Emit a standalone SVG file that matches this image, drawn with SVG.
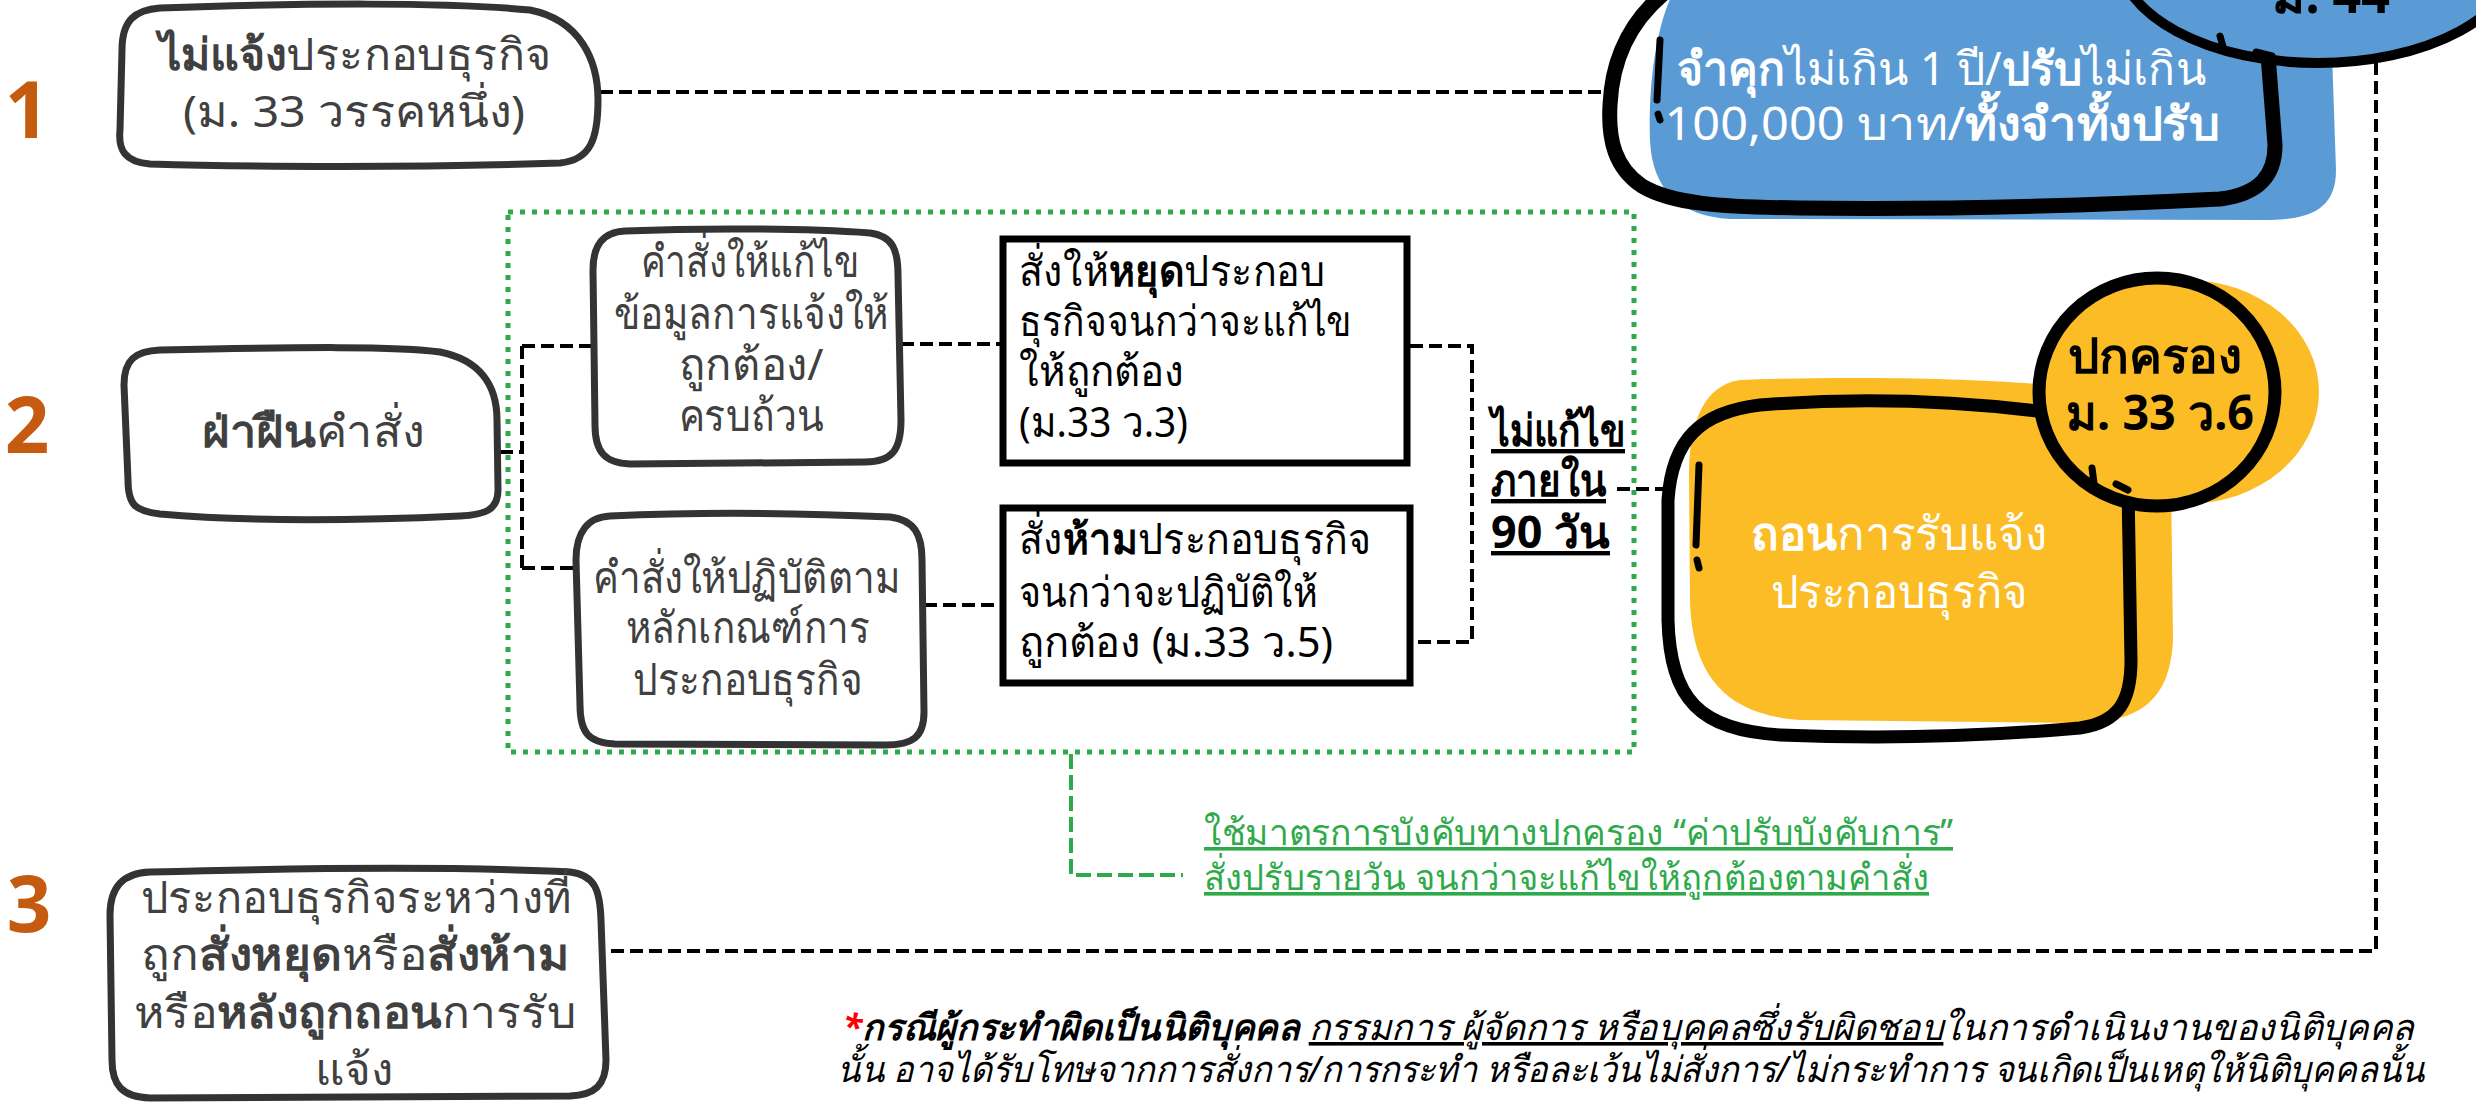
<svg xmlns="http://www.w3.org/2000/svg" width="2476" height="1103" viewBox="0 0 2476 1103">
<style>
text{font-family:"Noto Sans","DejaVu Sans",sans-serif;}
.num{font-family:"Open Sans",sans-serif;font-weight:700;font-size:78px;fill:#C55A11;text-anchor:middle;}
.sk{fill:#fff;stroke:#333;stroke-width:7;stroke-linejoin:round;stroke-linecap:round;}
.bt{font-size:44px;fill:#404040;text-anchor:middle;}
.bk{font-size:42px;fill:#000;}
.b{font-weight:700;}
.dash{fill:none;stroke:#000;stroke-width:4;stroke-dasharray:13 6;}
.gdot{fill:none;stroke:#2EAA4A;stroke-width:5;stroke-dasharray:5 7;}
.gdash{fill:none;stroke:#2EAA4A;stroke-width:4;stroke-dasharray:15 6;}
.wt{font-size:46px;fill:#fff;text-anchor:middle;}
.thick{fill:none;stroke:#000;stroke-linecap:round;stroke-linejoin:round;}
</style>
<rect width="2476" height="1103" fill="#fff"/>

<text class="num" x="27" y="138">1</text>
<text class="num" x="27" y="453">2</text>
<text class="num" x="29" y="932">3</text>

<g id="connectors">
  <path class="dash" d="M600,92 H1606"/>
  <path class="dash" d="M500,452 H522 M522,346 V568 M522,346 H593 M522,568 H576"/>
  <path class="dash" d="M901,344 H1000 M924,605 H1000"/>
  <path class="dash" d="M1410,346 H1472 V642 H1413"/>
  <path class="dash" d="M1617,489 H1668"/>
  <path class="dash" stroke-width="3.5" d="M2376,62 V951 H609"/>
  <path class="gdash" d="M1071,754 V875 H1183"/>
</g>

<g id="group-box">
  <rect class="gdot" x="508" y="212" width="1126" height="540"/>
</g>

<g id="penalty">
  <path fill="#5B9BD5" d="M1672,-5 L2330,-5 L2336,170 C2336,208 2312,219 2270,220 L1730,219 C1680,216 1652,190 1650,140 C1648,90 1655,30 1672,-5 Z"/>
  <path class="thick" stroke-width="15" d="M1668,-10 C1630,20 1612,60 1610,105 C1608,140 1615,168 1642,186 C1672,204 1720,207 1800,208 C1950,210 2100,205 2220,199 C2260,194 2275,175 2275,145 L2268,55"/>
  <ellipse cx="2318" cy="-45" rx="200" ry="108" fill="#5B9BD5" stroke="#000" stroke-width="10"/>
  <path class="thick" stroke-width="7" d="M1660,40 L1657,100 M1658,114 L1660,120 M2220,36 L2224,50 M2256,52 L2272,56"/>
  <text class="b" x="2331" y="13" font-size="54" text-anchor="middle" fill="#000" textLength="118" lengthAdjust="spacingAndGlyphs">ม. 44</text>
  <text class="wt" x="1941" y="85" textLength="529" lengthAdjust="spacingAndGlyphs"><tspan class="b">จำคุก</tspan>ไม่เกิน 1 ปี/<tspan class="b">ปรับ</tspan>ไม่เกิน</text>
  <text class="wt" x="1942" y="140" textLength="555" lengthAdjust="spacingAndGlyphs">100,000 บาท/<tspan class="b">ทั้งจำทั้งปรับ</tspan></text>
</g>

<g id="revoke">
  <path fill="#FBBC25" d="M1740,380 C1850,376 1980,378 2060,386 L2170,400 L2173,640 C2170,700 2140,722 2080,723 L1800,720 C1730,715 1692,680 1690,600 L1689,470 C1690,420 1705,385 1740,380 Z"/>
  <ellipse cx="2187" cy="392" rx="132" ry="112" fill="#FBBC25"/>
  <path class="thick" stroke-width="13" d="M2045,412 C1950,400 1850,398 1760,405 C1700,412 1672,440 1668,500 L1668,620 C1670,700 1700,730 1780,735 C1900,740 2000,735 2080,728 C2120,722 2131,700 2131,660 L2128,488"/>
  <ellipse cx="2157" cy="392" rx="118" ry="114" fill="#FBBC25" stroke="#000" stroke-width="13"/>
  <path class="thick" stroke-width="7" d="M1699,465 L1696,545 M1697,560 L1699,568 M2092,468 L2094,483 M2116,484 L2128,490"/>
  <text class="b" x="2155" y="373" font-size="48" text-anchor="middle" fill="#000" textLength="174" lengthAdjust="spacingAndGlyphs">ปกครอง</text>
  <text class="b" x="2160" y="430" font-size="48" text-anchor="middle" fill="#000" textLength="188" lengthAdjust="spacingAndGlyphs">ม. 33 ว.6</text>
  <text class="wt" x="1899" y="550" textLength="296" lengthAdjust="spacingAndGlyphs"><tspan class="b">ถอน</tspan>การรับแจ้ง</text>
  <text class="wt" x="1899" y="608" textLength="257" lengthAdjust="spacingAndGlyphs">ประกอบธุรกิจ</text>
</g>

<g id="node-1">
  <path class="sk" d="M160,8 C300,3 450,2 530,10 C580,20 598,60 598,100 C598,140 590,160 560,163 C420,168 250,167 150,164 C125,162 118,150 120,130 L122,50 C122,20 135,10 160,8 Z"/>
  <text class="bt" x="355" y="70" textLength="393" lengthAdjust="spacingAndGlyphs"><tspan class="b">ไม่แจ้ง</tspan>ประกอบธุรกิจ</text>
  <text class="bt" x="354" y="127" textLength="342" lengthAdjust="spacingAndGlyphs">(ม. 33 วรรคหนึ่ง)</text>
</g>

<g id="node-2">
  <path class="sk" d="M160,350 C300,347 400,346 440,352 C480,360 497,385 497,420 L498,490 C498,510 485,515 460,516 C350,521 250,522 160,514 C135,511 128,505 128,480 L124,385 C124,360 135,351 160,350 Z"/>
  <text class="bt" x="313" y="447" font-size="48" textLength="222" lengthAdjust="spacingAndGlyphs"><tspan class="b">ฝ่าฝืน</tspan>คำสั่ง</text>
</g>

<g id="node-a">
  <path class="sk" d="M625,231 C700,228 800,228 870,233 C893,236 898,250 898,275 L901,420 C901,450 892,462 865,462 L630,464 C605,463 595,452 595,425 L593,270 C593,245 603,232 625,231 Z"/>
  <text class="bt" font-size="42" x="750" y="277" textLength="218" lengthAdjust="spacingAndGlyphs">คำสั่งให้แก้ไข</text>
  <text class="bt" font-size="42" x="751" y="329" textLength="275" lengthAdjust="spacingAndGlyphs">ข้อมูลการแจ้งให้</text>
  <text class="bt" font-size="42" x="751" y="380" textLength="145" lengthAdjust="spacingAndGlyphs">ถูกต้อง/</text>
  <text class="bt" font-size="42" x="751" y="431" textLength="145" lengthAdjust="spacingAndGlyphs">ครบถ้วน</text>
</g>

<g id="node-b">
  <path class="sk" d="M610,516 C700,512 800,513 890,517 C915,520 922,535 922,560 L924,712 C924,737 913,745 885,745 L615,744 C588,743 580,732 580,705 L576,560 C576,532 588,517 610,516 Z"/>
  <text class="bt" font-size="42" x="747" y="593" textLength="308" lengthAdjust="spacingAndGlyphs">คำสั่งให้ปฏิบัติตาม</text>
  <text class="bt" font-size="42" x="748" y="643" textLength="245" lengthAdjust="spacingAndGlyphs">หลักเกณฑ์การ</text>
  <text class="bt" font-size="42" x="748" y="695" textLength="230" lengthAdjust="spacingAndGlyphs">ประกอบธุรกิจ</text>
</g>

<g id="node-c">
  <rect x="1003" y="239" width="404" height="224" fill="#fff" stroke="#000" stroke-width="7"/>
  <text class="bk" x="1019" y="286" textLength="306" lengthAdjust="spacingAndGlyphs">สั่งให้<tspan class="b">หยุด</tspan>ประกอบ</text>
  <text class="bk" x="1019" y="336" textLength="333" lengthAdjust="spacingAndGlyphs">ธุรกิจจนกว่าจะแก้ไข</text>
  <text class="bk" x="1019" y="386" textLength="165" lengthAdjust="spacingAndGlyphs">ให้ถูกต้อง</text>
  <text class="bk" x="1019" y="437" textLength="169" lengthAdjust="spacingAndGlyphs">(ม.33 ว.3)</text>
</g>

<g id="node-d">
  <rect x="1003" y="508" width="407" height="175" fill="#fff" stroke="#000" stroke-width="7"/>
  <text class="bk" x="1019" y="554" textLength="352" lengthAdjust="spacingAndGlyphs">สั่ง<tspan class="b">ห้าม</tspan>ประกอบธุรกิจ</text>
  <text class="bk" x="1019" y="607" textLength="299" lengthAdjust="spacingAndGlyphs">จนกว่าจะปฏิบัติให้</text>
  <text class="bk" x="1019" y="657" textLength="314" lengthAdjust="spacingAndGlyphs">ถูกต้อง (ม.33 ว.5)</text>
</g>

<g id="label-90">
  <text class="b" font-size="44" x="1491" y="446" fill="#000" text-decoration="underline" textLength="134" lengthAdjust="spacingAndGlyphs">ไม่แก้ไข</text>
  <text class="b" font-size="44" x="1491" y="496" fill="#000" text-decoration="underline" textLength="115" lengthAdjust="spacingAndGlyphs">ภายใน</text>
  <text class="b" font-size="44" x="1491" y="548" fill="#000" text-decoration="underline" textLength="119" lengthAdjust="spacingAndGlyphs">90 วัน</text>
</g>

<g id="green-note">
  <text font-size="36" x="1204" y="845" fill="#2EAA4A" text-decoration="underline" textLength="749" lengthAdjust="spacingAndGlyphs">ใช้มาตรการบังคับทางปกครอง “ค่าปรับบังคับการ”</text>
  <text font-size="36" x="1204" y="890" fill="#2EAA4A" text-decoration="underline" textLength="725" lengthAdjust="spacingAndGlyphs">สั่งปรับรายวัน จนกว่าจะแก้ไขให้ถูกต้องตามคำสั่ง</text>
</g>

<g id="node-3">
  <path class="sk" d="M150,872 C300,868 450,866 570,872 C595,875 600,890 601,920 L606,1060 C606,1085 595,1095 570,1096 L150,1098 C122,1097 112,1085 112,1060 L110,915 C110,888 122,873 150,872 Z"/>
  <text class="bt" x="356" y="913" textLength="430" lengthAdjust="spacingAndGlyphs">ประกอบธุรกิจระหว่างที่</text>
  <text class="bt" x="355" y="970" textLength="428" lengthAdjust="spacingAndGlyphs">ถูก<tspan class="b">สั่งหยุด</tspan>หรือ<tspan class="b">สั่งห้าม</tspan></text>
  <text class="bt" x="355" y="1028" textLength="442" lengthAdjust="spacingAndGlyphs">หรือ<tspan class="b">หลังถูกถอน</tspan>การรับ</text>
  <text class="bt" x="354" y="1085" textLength="78" lengthAdjust="spacingAndGlyphs">แจ้ง</text>
</g>

<g id="footnote" font-style="italic" font-size="36">
  <text x="843" y="1040" fill="#000" textLength="1571" lengthAdjust="spacingAndGlyphs"><tspan fill="#FF0000" font-weight="700">*</tspan><tspan font-weight="700">กรณีผู้กระทำผิดเป็นนิติบุคคล</tspan> <tspan text-decoration="underline">กรรมการ ผู้จัดการ หรือบุคคลซึ่งรับผิดชอบ</tspan>ในการดำเนินงานของนิติบุคคล</text>
  <text x="837" y="1082" fill="#000" textLength="1588" lengthAdjust="spacingAndGlyphs">นั้น อาจได้รับโทษจากการสั่งการ/การกระทำ หรือละเว้นไม่สั่งการ/ไม่กระทำการ จนเกิดเป็นเหตุให้นิติบุคคลนั้น</text>
</g>
</svg>
